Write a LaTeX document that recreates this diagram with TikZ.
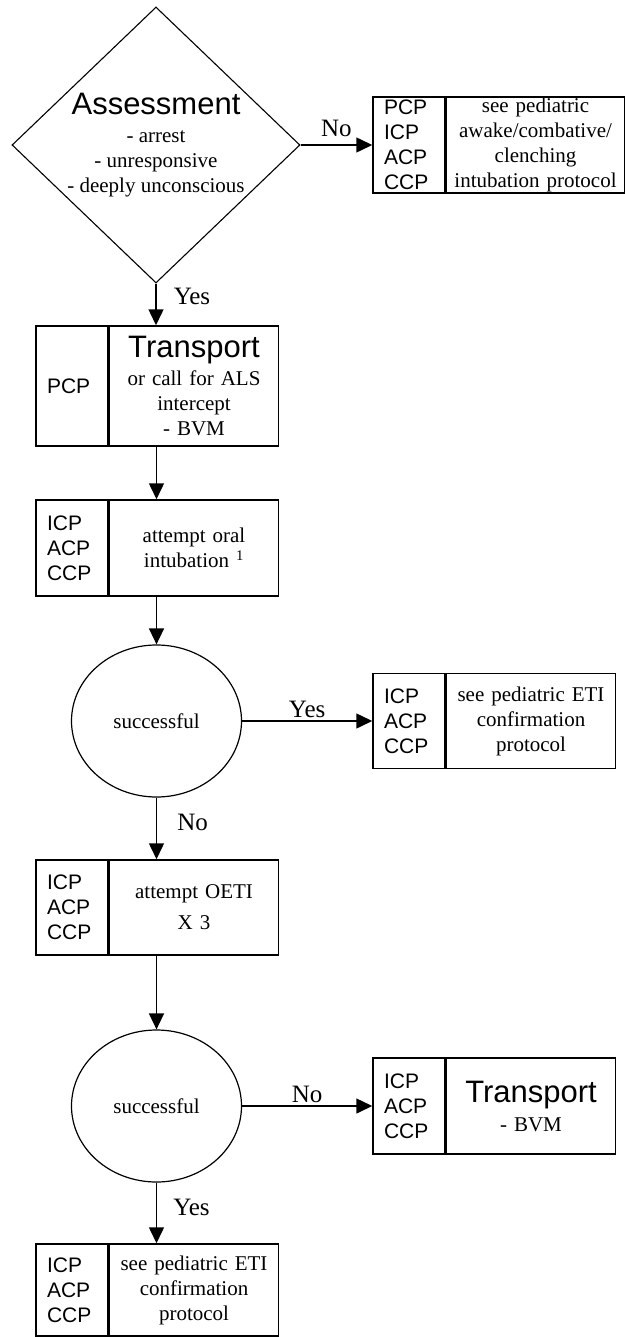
\documentclass[tikz,border=0pt]{standalone}
\usepackage{fontspec}
\setmainfont{Liberation Serif}
\setsansfont{Liberation Sans}
\usetikzlibrary{positioning, shapes.geometric, arrows.meta}

\newcommand{\headword}[1]{{\sffamily\fontsize{31}{36}\selectfont #1}}

\begin{document}
\begin{tikzpicture}[
  x=1pt, y=1pt,
  every node/.style={font=\fontsize{21}{25}\selectfont},
  decision/.style={draw, diamond, line width=1.1pt, minimum width=288pt, minimum height=276pt, inner sep=0pt},
  check/.style={draw, ellipse, line width=1.2pt, minimum width=170pt, minimum height=152pt, inner sep=0pt},
  role/.style={draw, rectangle, line width=1.5pt, text width=50pt, inner xsep=11pt, inner ysep=0pt, align=left, font=\sffamily\fontsize{21}{25}\selectfont},
  task/.style={draw, rectangle, line width=1.5pt, text width=161pt, inner xsep=4pt, inner ysep=0pt, align=center},
  answer/.style={font=\fontsize{25}{28}\selectfont, inner sep=3pt},
  arrow/.style={-{Triangle[length=16pt, width=15pt]}, line width=1.5pt}
]
\useasboundingbox (0,0) rectangle (624,-1337);

% Assessment
\node[decision] (assess) at (156,-145) {};
\node[align=center] (assesstxt) at (assess.center) {\headword{Assessment}\\[3pt]- arrest\\- unresponsive\\- deeply unconscious};
\node[role, minimum height=96pt] (r1) at (409,-145) {PCP\\ICP\\ACP\\CCP};
\node[task, text width=170pt, minimum height=96pt, right=0pt of r1] (t1) {see pediatric\\awake/combative/\\clenching\\intubation protocol};

% Transport / intubation
\node[role, minimum height=120pt] (r2) at (72,-386) {PCP};
\node[task, minimum height=120pt, right=0pt of r2] (t2) {\headword{Transport}\\[3pt]or call for ALS\\intercept\\- BVM};
\node[role, minimum height=96pt] (r3) at (72,-548) {ICP\\ACP\\CCP};
\node[task, minimum height=96pt, right=0pt of r3] (t3) {attempt oral\\intubation \textsuperscript{1}};

% First check
\node[check] (ok1) at (156.5,-721) {successful};
\node[role, minimum height=95pt] (r4) at (409,-721) {ICP\\ACP\\CCP};
\node[task, minimum height=95pt, right=0pt of r4] (t4) {see pediatric ETI\\confirmation\\protocol};
\node[role, minimum height=95pt] (r5) at (72,-907.5) {ICP\\ACP\\CCP};
\node[task, minimum height=95pt, right=0pt of r5] (t5) {attempt OETI\\[6pt]X 3};

% Second check
\node[check] (ok2) at (156.5,-1106) {successful};
\node[role, minimum height=96pt] (r6) at (409,-1106) {ICP\\ACP\\CCP};
\node[task, minimum height=96pt, right=0pt of r6] (t6) {\headword{Transport}\\[4pt]- BVM};
\node[role, minimum height=92pt] (r7) at (72,-1290) {ICP\\ACP\\CCP};
\node[task, minimum height=92pt, right=0pt of r7] (t7) {see pediatric ETI\\confirmation\\protocol};

% Arrows
\draw[arrow] (assess.east) -- node[answer, above=5pt] {No} (r1.west);
\draw[arrow] (assess.south) -- node[answer, right=14pt, pos=0.3] {Yes} (assess.south |- r2.north);
\draw[arrow] (ok1 |- r2.south) -- (ok1 |- r3.north);
\draw[arrow] (ok1 |- r3.south) -- (ok1.north);
\draw[arrow] (ok1.east) -- node[answer, above] {Yes} (r4.west);
\draw[arrow] (ok1.south) -- node[answer, right=17pt, pos=0.4] {No} (ok1 |- r5.north);
\draw[arrow] (ok1 |- r5.south) -- (ok2.north);
\draw[arrow] (ok2.east) -- node[answer, above] {No} (r6.west);
\draw[arrow] (ok2.south) -- node[answer, right=13pt, pos=0.41] {Yes} (ok2 |- r7.north);

\end{tikzpicture}
\end{document}
